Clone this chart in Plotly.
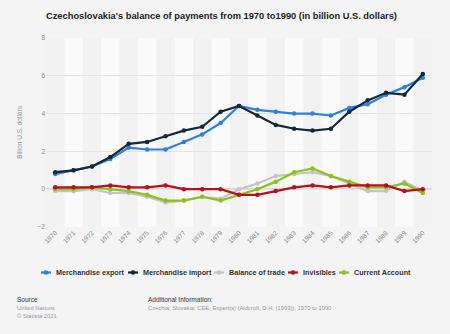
import plotly.graph_objects as go

years = list(range(1970, 1991))
export = [0.8, 1.0, 1.2, 1.6, 2.2, 2.1, 2.1, 2.5, 2.9, 3.5, 4.4, 4.2, 4.1, 4.0, 4.0, 3.9, 4.3, 4.5, 5.0, 5.4, 5.9]
imports = [0.9, 1.0, 1.2, 1.7, 2.4, 2.5, 2.8, 3.1, 3.3, 4.1, 4.4, 3.9, 3.4, 3.2, 3.1, 3.2, 4.1, 4.7, 5.1, 5.0, 6.1]
balance = [-0.1, -0.1, 0.0, -0.2, -0.2, -0.4, -0.7, -0.6, -0.4, -0.5, 0.0, 0.3, 0.7, 0.8, 0.9, 0.7, 0.3, -0.1, -0.1, 0.4, -0.1]
invisibles = [0.1, 0.1, 0.1, 0.2, 0.1, 0.1, 0.2, 0.0, 0.0, 0.0, -0.3, -0.3, -0.1, 0.1, 0.2, 0.1, 0.2, 0.2, 0.2, -0.1, 0.0]
current = [0.0, 0.0, 0.1, 0.0, -0.1, -0.3, -0.6, -0.6, -0.4, -0.6, -0.3, 0.0, 0.4, 0.9, 1.1, 0.7, 0.4, 0.1, 0.1, 0.3, -0.2]

series_names = ["Merchandise export", "Merchandise import", "Balance of trade", "Invisibles", "Current Account"]
series_values = [export, imports, balance, invisibles, current]
series_colors = ["#2f7fe0", "#14283c", "#c4c4c4", "#b5121b", "#8bc220"]
draw_order = [2, 4, 3, 0, 1]

# plot area in pixels (for placing decorations in paper coordinates)
W, H = 450, 334
L, R, T, B = 46, 18, 38, 107
PW, PH = W - L - R, H - T - B


def px(xp):
    return (xp - L) / PW


def py(yp):
    return (H - B - yp) / PH


fig = go.Figure()
for i in draw_order:
    fig.add_trace(go.Scatter(
        x=years, y=series_values[i], name=series_names[i], mode="lines+markers",
        line=dict(color=series_colors[i], width=2.2), marker=dict(color=series_colors[i], size=4.5),
        showlegend=False,
    ))

shapes = []
for y in years:
    if y % 2 == 1:
        shapes.append(dict(type="rect", xref="x", yref="paper", x0=y - 0.5, x1=y + 0.5,
                           y0=0, y1=1, fillcolor="#fafafa", line=dict(width=0), layer="below"))
shapes.append(dict(type="line", xref="paper", yref="y", x0=0, x1=1, y0=0, y1=0,
                   line=dict(color="#9a9a9a", width=1), layer="below"))

# custom legend (symbol positions in pixels)
legend_sym_x = [41, 128, 214, 288, 339]
legend_y = 272.5
for i, sx in enumerate(legend_sym_x):
    col = series_colors[i]
    shapes.append(dict(type="line", xref="paper", yref="paper", x0=px(sx), x1=px(sx + 10),
                       y0=py(legend_y), y1=py(legend_y), line=dict(color=col, width=2.2)))
    shapes.append(dict(type="circle", xref="paper", yref="paper", x0=px(sx + 5 - 2.3), x1=px(sx + 5 + 2.3),
                       y0=py(legend_y - 2.3), y1=py(legend_y + 2.3), fillcolor=col, line=dict(width=0)))
    fig.add_annotation(xref="paper", yref="paper", x=px(sx + 12.5), y=py(legend_y), xanchor="left",
                       yanchor="middle", showarrow=False, text="<b>" + series_names[i] + "</b>",
                       font=dict(size=7.2, color="#333333"))

fig.update_layout(
    width=W, height=H,
    margin=dict(l=L, r=R, t=T, b=B),
    paper_bgcolor="#f4f4f4", plot_bgcolor="#f2f2f2",
    font=dict(family="Liberation Sans, Arial, sans-serif", color="#555555"),
    title=dict(text="<b>Czechoslovakia's balance of payments from 1970 to1990 (in billion U.S. dollars)</b>",
               x=46 / 450, xanchor="left", y=1 - 16 / 334, yanchor="middle",
               font=dict(size=9.3, color="#222222")),
    showlegend=False,
    shapes=shapes,
    xaxis=dict(range=[1969.5, 1990.5], tickmode="array", tickvals=years,
               ticktext=[str(y) for y in years], tickangle=-45,
               tickfont=dict(size=6.5, color="#8a8a8a"), showgrid=False, zeroline=False,
               showline=False, ticks=""),
    yaxis=dict(range=[-2, 8], tickvals=[-2, 0, 2, 4, 6, 8], showgrid=True,
               gridcolor="#e4e4e4", gridwidth=1, zeroline=False,
               tickfont=dict(size=6.5, color="#8a8a8a"), ticks="",
               title=dict(text="Billion U.S. dollars", font=dict(size=6.5, color="#999999"), standoff=14)),
)

fig.add_annotation(xref="paper", yref="paper", x=px(15), y=py(299), xanchor="left", yanchor="middle",
                   text="Source", showarrow=False, font=dict(size=6.5, color="#333333"))
fig.add_annotation(xref="paper", yref="paper", x=px(15), y=py(302.5), xanchor="left",
                   yanchor="top", align="left", showarrow=False,
                   text="United Nations<br>© Statista 2021", font=dict(size=5.8, color="#999999"))
fig.add_annotation(xref="paper", yref="paper", x=px(146), y=py(299), xanchor="left", yanchor="middle",
                   text="Additional Information:", showarrow=False, font=dict(size=6.5, color="#333333"))
fig.add_annotation(xref="paper", yref="paper", x=px(146), y=py(302.5), xanchor="left",
                   yanchor="top", align="left", showarrow=False,
                   text="Czechia; Slovakia; CEE; Expert(s) (Aldcroft, D.H. (1993)); 1970 to 1990",
                   font=dict(size=5.8, color="#999999"))

fig.write_html("out.html")
